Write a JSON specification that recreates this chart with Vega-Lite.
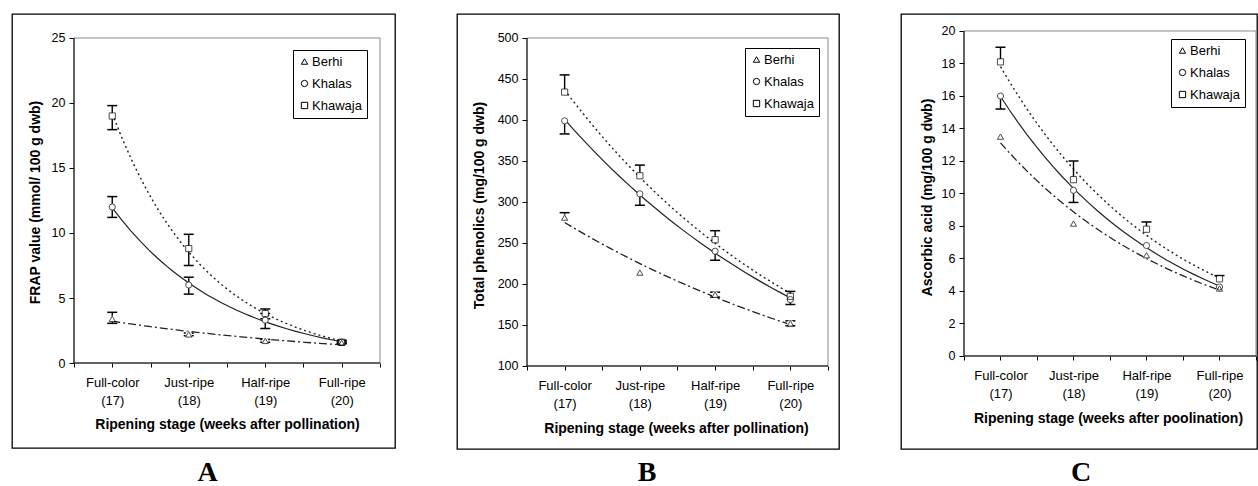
{
  "$schema": "https://vega.github.io/schema/vega-lite/v6.json",
  "padding": {"left": 11, "top": 13, "right": 0, "bottom": 0},
  "background": "white",
  "spacing": 60,
  "datasets": {
    "A": [
      {"cultivar": "Berhi", "week": 17, "value": 3.4, "low": 3.05, "high": 3.9},
      {"cultivar": "Berhi", "week": 18, "value": 2.2, "low": 2.1, "high": 2.3},
      {"cultivar": "Berhi", "week": 19, "value": 1.7, "low": 1.6, "high": 1.8},
      {"cultivar": "Berhi", "week": 20, "value": 1.55, "low": 1.5, "high": 1.6},
      {"cultivar": "Khalas", "week": 17, "value": 12.0, "low": 11.2, "high": 12.8},
      {"cultivar": "Khalas", "week": 18, "value": 6.0, "low": 5.3, "high": 6.6},
      {"cultivar": "Khalas", "week": 19, "value": 3.3, "low": 2.65, "high": 3.8},
      {"cultivar": "Khalas", "week": 20, "value": 1.6, "low": 1.5, "high": 1.7},
      {"cultivar": "Khawaja", "week": 17, "value": 19.0, "low": 17.95, "high": 19.8},
      {"cultivar": "Khawaja", "week": 18, "value": 8.8, "low": 7.5, "high": 9.9},
      {"cultivar": "Khawaja", "week": 19, "value": 3.8, "low": 3.4, "high": 4.15},
      {"cultivar": "Khawaja", "week": 20, "value": 1.6, "low": 1.5, "high": 1.75}
    ],
    "B": [
      {"cultivar": "Berhi", "week": 17, "value": 281, "low": 281, "high": 287},
      {"cultivar": "Berhi", "week": 18, "value": 214, "low": 214, "high": 214},
      {"cultivar": "Berhi", "week": 19, "value": 187, "low": 184, "high": 190},
      {"cultivar": "Berhi", "week": 20, "value": 152, "low": 149, "high": 155},
      {"cultivar": "Khalas", "week": 17, "value": 399, "low": 383, "high": 399},
      {"cultivar": "Khalas", "week": 18, "value": 310, "low": 296, "high": 310},
      {"cultivar": "Khalas", "week": 19, "value": 240, "low": 229, "high": 240},
      {"cultivar": "Khalas", "week": 20, "value": 181, "low": 175, "high": 181},
      {"cultivar": "Khawaja", "week": 17, "value": 434, "low": 434, "high": 455},
      {"cultivar": "Khawaja", "week": 18, "value": 332, "low": 332, "high": 345},
      {"cultivar": "Khawaja", "week": 19, "value": 254, "low": 254, "high": 265},
      {"cultivar": "Khawaja", "week": 20, "value": 185, "low": 185, "high": 191}
    ],
    "C": [
      {"cultivar": "Berhi", "week": 17, "value": 13.5, "low": 13.5, "high": 13.5},
      {"cultivar": "Berhi", "week": 18, "value": 8.15, "low": 8.15, "high": 8.15},
      {"cultivar": "Berhi", "week": 19, "value": 6.2, "low": 6.2, "high": 6.2},
      {"cultivar": "Berhi", "week": 20, "value": 4.15, "low": 4.15, "high": 4.15},
      {"cultivar": "Khalas", "week": 17, "value": 16.0, "low": 15.2, "high": 16.0},
      {"cultivar": "Khalas", "week": 18, "value": 10.2, "low": 9.45, "high": 10.2},
      {"cultivar": "Khalas", "week": 19, "value": 6.8, "low": 6.8, "high": 6.8},
      {"cultivar": "Khalas", "week": 20, "value": 4.25, "low": 4.25, "high": 4.25},
      {"cultivar": "Khawaja", "week": 17, "value": 18.1, "low": 18.1, "high": 19.0},
      {"cultivar": "Khawaja", "week": 18, "value": 10.85, "low": 10.85, "high": 12.0},
      {"cultivar": "Khawaja", "week": 19, "value": 7.8, "low": 7.8, "high": 8.25},
      {"cultivar": "Khawaja", "week": 20, "value": 4.75, "low": 4.75, "high": 4.95}
    ]
  },
  "resolve": {"scale": {"shape": "independent"}, "legend": {"shape": "independent"}},
  "config": {
    "font": "Liberation Sans",
    "view": {"stroke": "black", "strokeWidth": 1.3},
    "axis": {"grid": false, "domain": false, "labelColor": "black", "tickColor": "black", "titleColor": "black", "labelFont": "Liberation Sans", "titleFont": "Liberation Sans", "labelFontSize": 12.5, "titleFontSize": 14, "titleFontWeight": "bold", "tickWidth": 1},
    "legend": {"strokeColor": "black", "padding": 5, "fillColor": "white", "labelFont": "Liberation Sans", "labelFontSize": 13, "labelColor": "black", "rowPadding": 8, "labelOffset": 1},
    "title": {"font": "Liberation Serif", "fontSize": 28, "fontWeight": "bold", "color": "black", "orient": "bottom", "anchor": "middle", "baseline": "top"}
  },
  "hconcat": [
    {
      "width": 383, "height": 434,
      "data": {"name": "A"},
      "title": {"text": "A", "dx": 4, "offset": 11},
      "layer": [
        {"transform": [{"filter": "datum.cultivar == 'Berhi' && datum.week == 17"}],
          "mark": {"type": "rect", "fillOpacity": 0, "stroke": "#8a8a8a", "strokeWidth": 1},
          "encoding": {"x": {"datum": 16.5, "type": "quantitative"}, "x2": {"datum": 20.5}, "y": {"datum": 0, "type": "quantitative"}, "y2": {"datum": 25}}},
        {"transform": [{"filter": "datum.cultivar == 'Berhi' && datum.week == 17"}],
          "mark": {"type": "rule", "color": "black", "strokeWidth": 1},
          "encoding": {"x": {"datum": 16.5, "type": "quantitative"}, "y": {"datum": 0, "type": "quantitative"}, "y2": {"datum": 25}}},
        {"transform": [{"filter": "datum.cultivar == 'Berhi' && datum.week == 17"}],
          "mark": {"type": "rule", "color": "black", "strokeWidth": 1},
          "encoding": {"x": {"datum": 16.5, "type": "quantitative"}, "x2": {"datum": 20.5}, "y": {"datum": 0, "type": "quantitative"}}},
        {"transform": [{"filter": "datum.cultivar == 'Berhi'"}, {"regression": "value", "on": "week", "method": "exp"}],
          "mark": {"type": "line", "color": "#222", "strokeWidth": 1.3, "strokeDash": [8, 3, 2, 3]},
          "encoding": {
            "x": {"field": "week", "type": "quantitative", "scale": {"domain": [15.68954, 20.69608], "nice": false, "zero": false},
              "axis": {"values": [16.5, 17, 17.5, 18, 18.5, 19, 19.5, 20, 20.5], "labelExpr": "datum.value == 17 ? ['Full-color', '(17)'] : datum.value == 18 ? ['Just-ripe', '(18)'] : datum.value == 19 ? ['Half-ripe', '(19)'] : datum.value == 20 ? ['Full-ripe', '(20)'] : ''", "offset": -85, "tickSize": 4, "labelPadding": 9, "labelLineHeight": 18, "labelOverlap": false, "labelFlush": false, "labelFontSize": 13, "title": "Ripening stage (weeks after pollination)", "titleX": 215, "titleY": 61, "titleBaseline": "middle", "titleAlign": "center"}},
            "y": {"field": "value", "type": "quantitative", "scale": {"domain": [-6.53846, 26.84615], "nice": false, "zero": false},
              "axis": {"values": [0, 5, 10, 15, 20, 25], "offset": -62, "tickSize": 5, "labelPadding": 4, "title": "FRAP value (mmol/ 100 g dwb)", "titleX": -39, "titleY": 188, "titleAngle": 270, "titleAlign": "center", "titleBaseline": "middle"}}
          }},
        {"transform": [{"filter": "datum.cultivar == 'Khalas'"}, {"regression": "value", "on": "week", "method": "exp"}],
          "mark": {"type": "line", "color": "#222", "strokeWidth": 1.2},
          "encoding": {"x": {"field": "week", "type": "quantitative"}, "y": {"field": "value", "type": "quantitative"}}},
        {"transform": [{"filter": "datum.cultivar == 'Khawaja'"}, {"regression": "value", "on": "week", "method": "exp"}],
          "mark": {"type": "line", "color": "#222", "strokeWidth": 1.4, "strokeDash": [2, 3]},
          "encoding": {"x": {"field": "week", "type": "quantitative"}, "y": {"field": "value", "type": "quantitative"}}},
        {"mark": {"type": "rule", "color": "black", "strokeWidth": 1.4},
          "encoding": {"x": {"field": "week", "type": "quantitative"}, "y": {"field": "low", "type": "quantitative"}, "y2": {"field": "high"}}},
        {"transform": [{"filter": "datum.low < datum.value"}], "mark": {"type": "tick", "orient": "horizontal", "size": 10, "thickness": 1.5, "color": "black", "opacity": 1},
          "encoding": {"x": {"field": "week", "type": "quantitative"}, "y": {"field": "low", "type": "quantitative"}}},
        {"transform": [{"filter": "datum.high > datum.value"}], "mark": {"type": "tick", "orient": "horizontal", "size": 10, "thickness": 1.5, "color": "black", "opacity": 1},
          "encoding": {"x": {"field": "week", "type": "quantitative"}, "y": {"field": "high", "type": "quantitative"}}},
        {"mark": {"type": "circle", "color": "white", "size": 40, "opacity": 1},
          "encoding": {"x": {"field": "week", "type": "quantitative"}, "y": {"field": "value", "type": "quantitative"}}},
        {"mark": {"type": "point", "filled": false, "color": "black", "strokeWidth": 1, "size": 38},
          "encoding": {"x": {"field": "week", "type": "quantitative"}, "y": {"field": "value", "type": "quantitative"},
            "shape": {"field": "cultivar", "type": "nominal", "scale": {"domain": ["Berhi", "Khalas", "Khawaja"], "range": ["triangle-up", "circle", "square"]}, "legend": {"orient": "none", "legendX": 281, "legendY": 36, "title": null, "symbolStrokeColor": "black", "symbolFillColor": "white", "symbolStrokeWidth": 1, "symbolSize": 40, "symbolOpacity": 1}}}}
      ]
    },
    {
      "width": 382, "height": 435,
      "data": {"name": "B"},
      "title": {"text": "B", "dx": -1, "offset": 10},
      "layer": [
        {"transform": [{"filter": "datum.cultivar == 'Berhi' && datum.week == 17"}],
          "mark": {"type": "rect", "fillOpacity": 0, "stroke": "#8a8a8a", "strokeWidth": 1},
          "encoding": {"x": {"datum": 16.5, "type": "quantitative"}, "x2": {"datum": 20.5}, "y": {"datum": 100, "type": "quantitative"}, "y2": {"datum": 500}}},
        {"transform": [{"filter": "datum.cultivar == 'Berhi' && datum.week == 17"}],
          "mark": {"type": "rule", "color": "black", "strokeWidth": 1},
          "encoding": {"x": {"datum": 16.5, "type": "quantitative"}, "y": {"datum": 100, "type": "quantitative"}, "y2": {"datum": 500}}},
        {"transform": [{"filter": "datum.cultivar == 'Berhi' && datum.week == 17"}],
          "mark": {"type": "rule", "color": "black", "strokeWidth": 1},
          "encoding": {"x": {"datum": 16.5, "type": "quantitative"}, "x2": {"datum": 20.5}, "y": {"datum": 100, "type": "quantitative"}}},
        {"transform": [{"filter": "datum.cultivar == 'Berhi'"}, {"regression": "value", "on": "week", "method": "exp"}],
          "mark": {"type": "line", "color": "#222", "strokeWidth": 1.3, "strokeDash": [8, 3, 2, 3]},
          "encoding": {
            "x": {"field": "week", "type": "quantitative", "scale": {"domain": [15.56977, 20.64618], "nice": false, "zero": false},
              "axis": {"values": [16.5, 17, 17.5, 18, 18.5, 19, 19.5, 20, 20.5], "labelExpr": "datum.value == 17 ? ['Full-color', '(17)'] : datum.value == 18 ? ['Just-ripe', '(18)'] : datum.value == 19 ? ['Half-ripe', '(19)'] : datum.value == 20 ? ['Full-ripe', '(20)'] : ''", "offset": -83, "tickSize": 4, "labelPadding": 9, "labelLineHeight": 18, "labelOverlap": false, "labelFlush": false, "labelFontSize": 13, "title": "Ripening stage (weeks after pollination)", "titleX": 219, "titleY": 62, "titleBaseline": "middle", "titleAlign": "center"}},
            "y": {"field": "value", "type": "quantitative", "scale": {"domain": [-1.2195, 529.268], "nice": false, "zero": false},
              "axis": {"values": [100, 150, 200, 250, 300, 350, 400, 450, 500], "offset": -70, "tickSize": 5, "labelPadding": 4, "title": "Total phenolics (mg/100 g dwb)", "titleX": -48, "titleY": 191, "titleAngle": 270, "titleAlign": "center", "titleBaseline": "middle"}}
          }},
        {"transform": [{"filter": "datum.cultivar == 'Khalas'"}, {"regression": "value", "on": "week", "method": "exp"}],
          "mark": {"type": "line", "color": "#222", "strokeWidth": 1.2},
          "encoding": {"x": {"field": "week", "type": "quantitative"}, "y": {"field": "value", "type": "quantitative"}}},
        {"transform": [{"filter": "datum.cultivar == 'Khawaja'"}, {"regression": "value", "on": "week", "method": "exp"}],
          "mark": {"type": "line", "color": "#222", "strokeWidth": 1.4, "strokeDash": [2, 3]},
          "encoding": {"x": {"field": "week", "type": "quantitative"}, "y": {"field": "value", "type": "quantitative"}}},
        {"mark": {"type": "rule", "color": "black", "strokeWidth": 1.4},
          "encoding": {"x": {"field": "week", "type": "quantitative"}, "y": {"field": "low", "type": "quantitative"}, "y2": {"field": "high"}}},
        {"transform": [{"filter": "datum.low < datum.value"}], "mark": {"type": "tick", "orient": "horizontal", "size": 10, "thickness": 1.5, "color": "black", "opacity": 1},
          "encoding": {"x": {"field": "week", "type": "quantitative"}, "y": {"field": "low", "type": "quantitative"}}},
        {"transform": [{"filter": "datum.high > datum.value"}], "mark": {"type": "tick", "orient": "horizontal", "size": 10, "thickness": 1.5, "color": "black", "opacity": 1},
          "encoding": {"x": {"field": "week", "type": "quantitative"}, "y": {"field": "high", "type": "quantitative"}}},
        {"mark": {"type": "circle", "color": "white", "size": 40, "opacity": 1},
          "encoding": {"x": {"field": "week", "type": "quantitative"}, "y": {"field": "value", "type": "quantitative"}}},
        {"mark": {"type": "point", "filled": false, "color": "black", "strokeWidth": 1, "size": 38},
          "encoding": {"x": {"field": "week", "type": "quantitative"}, "y": {"field": "value", "type": "quantitative"},
            "shape": {"field": "cultivar", "type": "nominal", "scale": {"domain": ["Berhi", "Khalas", "Khawaja"], "range": ["triangle-up", "circle", "square"]}, "legend": {"orient": "none", "legendX": 288, "legendY": 34, "title": null, "symbolStrokeColor": "black", "symbolFillColor": "white", "symbolStrokeWidth": 1, "symbolSize": 40, "symbolOpacity": 1}}}}
      ]
    },
    {
      "width": 356, "height": 435,
      "data": {"name": "C"},
      "title": {"text": "C", "dx": 2, "offset": 10},
      "layer": [
        {"transform": [{"filter": "datum.cultivar == 'Berhi' && datum.week == 17"}],
          "mark": {"type": "rect", "fillOpacity": 0, "stroke": "#8a8a8a", "strokeWidth": 1},
          "encoding": {"x": {"datum": 16.5, "type": "quantitative"}, "x2": {"datum": 20.5}, "y": {"datum": 0, "type": "quantitative"}, "y2": {"datum": 20}}},
        {"transform": [{"filter": "datum.cultivar == 'Berhi' && datum.week == 17"}],
          "mark": {"type": "rule", "color": "black", "strokeWidth": 1},
          "encoding": {"x": {"datum": 16.5, "type": "quantitative"}, "y": {"datum": 0, "type": "quantitative"}, "y2": {"datum": 20}}},
        {"transform": [{"filter": "datum.cultivar == 'Berhi' && datum.week == 17"}],
          "mark": {"type": "rule", "color": "black", "strokeWidth": 1},
          "encoding": {"x": {"datum": 16.5, "type": "quantitative"}, "x2": {"datum": 20.5}, "y": {"datum": 0, "type": "quantitative"}}},
        {"transform": [{"filter": "datum.cultivar == 'Berhi'"}, {"regression": "value", "on": "week", "method": "exp"}],
          "mark": {"type": "line", "color": "#222", "strokeWidth": 1.3, "strokeDash": [8, 3, 2, 3]},
          "encoding": {
            "x": {"field": "week", "type": "quantitative", "scale": {"domain": [15.63699, 20.5137], "nice": false, "zero": false},
              "axis": {"values": [16.5, 17, 17.5, 18, 18.5, 19, 19.5, 20, 20.5], "labelExpr": "datum.value == 17 ? ['Full-color', '(17)'] : datum.value == 18 ? ['Just-ripe', '(18)'] : datum.value == 19 ? ['Half-ripe', '(19)'] : datum.value == 20 ? ['Full-ripe', '(20)'] : ''", "offset": -93, "tickSize": 4, "labelPadding": 9, "labelLineHeight": 18, "labelOverlap": false, "labelFlush": false, "labelFontSize": 13, "title": "Ripening stage (weeks after poolination)", "titleX": 207, "titleY": 62, "titleBaseline": "middle", "titleAlign": "center"}},
            "y": {"field": "value", "type": "quantitative", "scale": {"domain": [-5.72308, 21.04615], "nice": false, "zero": false},
              "axis": {"values": [0, 2, 4, 6, 8, 10, 12, 14, 16, 18, 20], "offset": -63, "tickSize": 5, "labelPadding": 4, "title": "Ascorbic acid (mg/100 g dwb)", "titleX": -37, "titleY": 183, "titleAngle": 270, "titleAlign": "center", "titleBaseline": "middle"}}
          }},
        {"transform": [{"filter": "datum.cultivar == 'Khalas'"}, {"regression": "value", "on": "week", "method": "exp"}],
          "mark": {"type": "line", "color": "#222", "strokeWidth": 1.2},
          "encoding": {"x": {"field": "week", "type": "quantitative"}, "y": {"field": "value", "type": "quantitative"}}},
        {"transform": [{"filter": "datum.cultivar == 'Khawaja'"}, {"regression": "value", "on": "week", "method": "exp"}],
          "mark": {"type": "line", "color": "#222", "strokeWidth": 1.4, "strokeDash": [2, 3]},
          "encoding": {"x": {"field": "week", "type": "quantitative"}, "y": {"field": "value", "type": "quantitative"}}},
        {"mark": {"type": "rule", "color": "black", "strokeWidth": 1.4},
          "encoding": {"x": {"field": "week", "type": "quantitative"}, "y": {"field": "low", "type": "quantitative"}, "y2": {"field": "high"}}},
        {"transform": [{"filter": "datum.low < datum.value"}], "mark": {"type": "tick", "orient": "horizontal", "size": 10, "thickness": 1.5, "color": "black", "opacity": 1},
          "encoding": {"x": {"field": "week", "type": "quantitative"}, "y": {"field": "low", "type": "quantitative"}}},
        {"transform": [{"filter": "datum.high > datum.value"}], "mark": {"type": "tick", "orient": "horizontal", "size": 10, "thickness": 1.5, "color": "black", "opacity": 1},
          "encoding": {"x": {"field": "week", "type": "quantitative"}, "y": {"field": "high", "type": "quantitative"}}},
        {"mark": {"type": "circle", "color": "white", "size": 40, "opacity": 1},
          "encoding": {"x": {"field": "week", "type": "quantitative"}, "y": {"field": "value", "type": "quantitative"}}},
        {"mark": {"type": "point", "filled": false, "color": "black", "strokeWidth": 1, "size": 38},
          "encoding": {"x": {"field": "week", "type": "quantitative"}, "y": {"field": "value", "type": "quantitative"},
            "shape": {"field": "cultivar", "type": "nominal", "scale": {"domain": ["Berhi", "Khalas", "Khawaja"], "range": ["triangle-up", "circle", "square"]}, "legend": {"orient": "none", "legendX": 270, "legendY": 25, "title": null, "symbolStrokeColor": "black", "symbolFillColor": "white", "symbolStrokeWidth": 1, "symbolSize": 40, "symbolOpacity": 1}}}}
      ]
    }
  ]
}
